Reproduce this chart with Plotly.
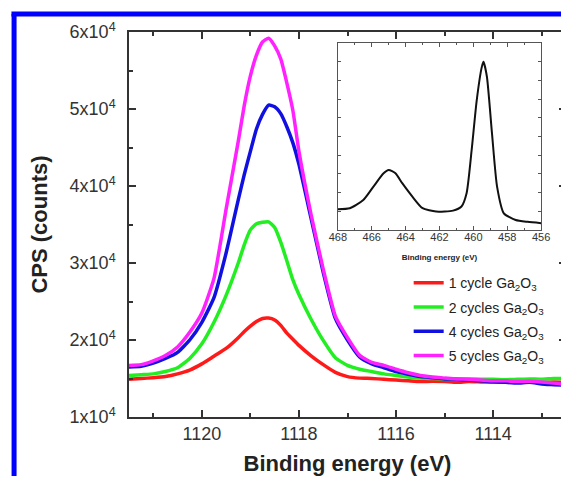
import plotly.graph_objects as go

# ---------------- data ----------------
energy = [1121.5, 1121.25, 1121.0, 1120.75, 1120.5, 1120.25, 1120.0, 1119.75, 1119.5,
          1119.25, 1119.125, 1119.0, 1118.875, 1118.75, 1118.625, 1118.5, 1118.375, 1118.25, 1118.125, 1118.0,
          1117.75, 1117.5, 1117.25, 1117.0, 1116.75, 1116.5, 1116.25, 1116.0, 1115.75, 1115.5, 1115.25,
          1115.0, 1114.75, 1114.5, 1114.25, 1114.0, 1113.75, 1113.5, 1113.25, 1113.0, 1112.75, 1112.5]

cps_1cycle = [14900, 15000, 15100, 15250, 15600, 16100, 16900, 17900, 18900,
              20300, 21100, 21800, 22400, 22800, 22850, 22600, 21900, 20900, 20100, 19300,
              17950, 16800, 15800, 15250, 15050, 15000, 14900, 14800, 14700, 14600, 14650,
              14600, 14500, 14600, 14550, 14500, 14550, 14500, 14550, 14500, 14550, 14500]
cps_2cycles = [15400, 15500, 15600, 15900, 16400, 17600, 19500, 22300, 25800,
               30000, 32400, 34300, 35100, 35300, 35350, 34600, 32700, 30300, 27800, 25900,
               22700, 19950, 17700, 16700, 16200, 15900, 15600, 15400, 15200, 15050, 15000,
               14950, 14900, 14950, 14900, 14900, 14850, 14900, 14950, 14900, 15000, 15000]
cps_4cycles = [16500, 16600, 17000, 17600, 18400, 20000, 22300, 25500, 31300,
               38200, 41500, 44500, 47400, 49300, 50500, 50300, 49400, 47700, 45600, 42800,
               35800, 28800, 22800, 20000, 17800, 16900, 16400, 15900, 15550, 15250, 15100,
               14950, 14900, 14800, 14700, 14600, 14500, 14400, 14500, 14300, 14200, 14100]
cps_5cycles = [16700, 16800, 17300, 18000, 19100, 21000, 23500, 28000, 37000,
               45800, 50500, 54300, 57000, 58700, 59200, 58200, 56500, 53400, 49800, 44500,
               36300, 29200, 23100, 20300, 18000, 17100, 16700, 16200, 15750, 15400, 15200,
               15050, 14950, 14900, 14800, 14700, 14700, 14600, 14650, 14550, 14400, 14200]

series_names = ["1 cycle Ga<sub>2</sub>O<sub>3</sub>", "2 cycles Ga<sub>2</sub>O<sub>3</sub>",
                "4 cycles Ga<sub>2</sub>O<sub>3</sub>", "5 cycles Ga<sub>2</sub>O<sub>3</sub>"]
series_colors = ["#ff1a1a", "#22ee22", "#1010e0", "#ff22ff"]

y_tickvals = [10000, 20000, 30000, 40000, 50000, 60000]
y_ticktext = ["1x10<sup>4</sup>", "2x10<sup>4</sup>", "3x10<sup>4</sup>",
              "4x10<sup>4</sup>", "5x10<sup>4</sup>", "6x10<sup>4</sup>"]
x_tickvals = [1120, 1118, 1116, 1114]

inset_energy = [468.0, 467.3, 466.5, 465.9, 465.3, 465.0, 464.6, 464.2, 463.6, 463.0,
                462.2, 461.2, 460.7, 460.4, 460.1, 459.8, 459.5, 459.4, 459.2, 458.9,
                458.6, 458.2, 457.5, 456.8, 456.0]
inset_counts = [11.1, 11.6, 16.0, 23.2, 30.3, 32.1, 30.3, 25.0, 17.8, 11.6,
                9.8, 10.3, 12.5, 19.6, 42.8, 69.5, 87.3, 90.0, 82.0, 51.7,
                23.2, 8.9, 5.3, 4.3, 3.6]
inset_tickvals = [468, 466, 464, 462, 460, 458, 456]

# ---------------- figure ----------------
fig = go.Figure()
all_series = [cps_1cycle, cps_2cycles, cps_4cycles, cps_5cycles]
for i, (vals, name, col) in enumerate(zip(all_series, series_names, series_colors)):
    fig.add_trace(go.Scatter(x=energy, y=vals, mode="lines", name=name,
                             line=dict(color=col, width=3.5, shape="spline", smoothing=0.5),
                             legendgroup=f"g{i}"))

fig.add_trace(go.Scatter(x=inset_energy, y=inset_counts, mode="lines", showlegend=False,
                         line=dict(color="#111111", width=2, shape="spline", smoothing=0.6),
                         xaxis="x2", yaxis="y2"))

axis_col = "#333333"
fig.update_layout(
    width=561, height=468,
    margin=dict(l=121, r=3, t=24, b=59),
    paper_bgcolor="white", plot_bgcolor="white",
    font=dict(family="Arial, Liberation Sans, sans-serif", color="#222222"),
    xaxis=dict(range=[1121.5, 1112.5], tickvals=x_tickvals, ticks="inside", ticklen=7,
               tickwidth=1.5, tickcolor=axis_col, showline=True, linecolor=axis_col,
               linewidth=1.5, mirror="allticks", showgrid=False, zeroline=False, automargin=False,
               tickfont=dict(size=18, color="#333333"),
               minor=dict(dtick=1, ticks="inside", ticklen=4, tickcolor=axis_col, tickwidth=1.5),
               title=dict(text="<b>Binding energy (eV)</b>", font=dict(size=22, color="#222222"), standoff=13)),
    yaxis=dict(range=[10000, 60000], tickvals=y_tickvals, ticktext=y_ticktext,
               ticks="inside", ticklen=7, tickwidth=1.5, tickcolor=axis_col,
               showline=True, linecolor=axis_col, linewidth=1.5, mirror="allticks",
               showgrid=False, zeroline=False, automargin=False, tickfont=dict(size=18, color="#333333"),
               ticklabelstandoff=8,
               minor=dict(dtick=5000, tick0=5000, ticks="inside", ticklen=4, tickcolor=axis_col, tickwidth=1.5),
               title=dict(text="<b>CPS (counts)</b>", font=dict(size=22, color="#222222"), standoff=16)),
    xaxis2=dict(domain=[0.478, 0.943], anchor="y2", range=[468, 456], tickvals=inset_tickvals,
                ticks="inside", ticklen=4, tickcolor="#555555", showline=True, linecolor="#555555",
                linewidth=1, mirror="allticks", showgrid=False, zeroline=False, automargin=False,
                tickfont=dict(size=11, color="#333333"), ticklabelstandoff=-3,
                minor=dict(dtick=1, ticks="inside", ticklen=2, tickcolor="#555555"),
                title=dict(text="<b>Binding energy (eV)</b>", font=dict(size=8), standoff=12)),
    yaxis2=dict(domain=[0.486, 0.971], anchor="x2", range=[0, 100], showticklabels=False,
                dtick=10, ticks="inside", ticklen=3, tickcolor="#555555", showline=True, automargin=False,
                linecolor="#555555", linewidth=1, mirror="allticks", showgrid=False, zeroline=False),
    legend=dict(x=0.64, y=0.389, xanchor="left", yanchor="top", bgcolor="rgba(0,0,0,0)",
                font=dict(size=14, color="#222222"), tracegroupgap=3),
    shapes=[
        dict(type="line", xref="paper", yref="paper", x0=-0.263, x1=-0.263, y0=1.047, y1=-0.3,
             line=dict(color="#0000ff", width=5)),
        dict(type="line", xref="paper", yref="paper", x0=-0.269, x1=1.05, y0=1.047, y1=1.047,
             line=dict(color="#0000ff", width=5)),
    ],
)

fig.write_html("out.html")
